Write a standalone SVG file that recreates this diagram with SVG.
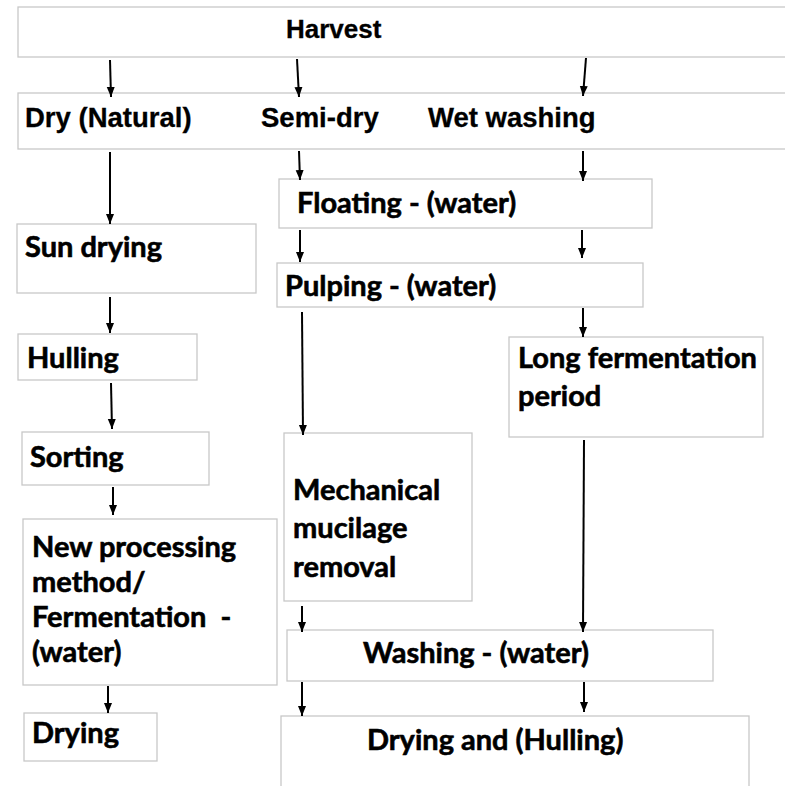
<svg xmlns="http://www.w3.org/2000/svg" width="785" height="786" viewBox="0 0 785 786">
<style>
.box{fill:#fff;stroke:#c8c8c8;stroke-width:1.3}
.t1{font-family:"Liberation Sans",Arial,sans-serif;font-weight:700;fill:#000;stroke:#000;stroke-width:0.3}
.t2{font-family:Lato,"Liberation Sans",sans-serif;font-weight:700;font-size:29px;fill:#000;stroke:#000;stroke-width:0.6;white-space:pre}
.c{stroke:#000;stroke-width:2;fill:none;marker-end:url(#ah)}
</style>
<defs>
<marker id="ah" markerUnits="userSpaceOnUse" markerWidth="10" markerHeight="10" viewBox="0 0 10 10" refX="10" refY="5" orient="auto">
<path d="M0,1 L10,5 L0,9 Z" fill="#000"/>
</marker>
</defs>
<rect width="785" height="786" fill="#fff"/>
<g id="harvest"><rect class="box" x="18" y="7" width="780" height="50"/><text class="t1" font-size="26" x="286" y="38">Harvest</text></g>
<g id="methods"><rect class="box" x="18" y="93" width="780" height="56"/>
<text class="t1" font-size="27.5" x="25" y="127">Dry (Natural)</text>
<text class="t1" font-size="27.5" x="261" y="127">Semi-dry</text>
<text class="t1" font-size="27.5" x="428" y="127">Wet washing</text></g>
<g id="sun-drying"><rect class="box" x="17" y="224" width="239" height="69"/><text class="t2" x="25" y="257">Sun drying</text></g>
<g id="hulling"><rect class="box" x="18" y="334" width="179" height="46"/><text class="t2" x="27" y="368">Hulling</text></g>
<g id="sorting"><rect class="box" x="22" y="432" width="187" height="53"/><text class="t2" x="30" y="467">Sorting</text></g>
<g id="new-processing"><rect class="box" x="23" y="519" width="254" height="166"/>
<text class="t2" x="32" y="557">New processing</text>
<text class="t2" x="32" y="592">method/</text>
<text class="t2" x="32" y="627">Fermentation  -</text>
<text class="t2" x="32" y="662">(water)</text></g>
<g id="drying"><rect class="box" x="24" y="713" width="133" height="48"/><text class="t2" x="32" y="743">Drying</text></g>
<g id="floating"><rect class="box" x="279" y="179" width="373" height="49"/><text class="t2" x="297" y="213">Floating - (water)</text></g>
<g id="pulping"><rect class="box" x="277" y="263" width="366" height="44"/><text class="t2" x="285" y="296">Pulping - (water)</text></g>
<g id="long-fermentation"><rect class="box" x="509" y="337" width="254" height="100"/>
<text class="t2" x="518" y="368">Long fermentation</text>
<text class="t2" x="518" y="406">period</text></g>
<g id="mechanical"><rect class="box" x="284" y="433" width="188" height="168"/>
<text class="t2" x="293" y="500">Mechanical</text>
<text class="t2" x="293" y="538">mucilage</text>
<text class="t2" x="293" y="577">removal</text></g>
<g id="washing"><rect class="box" x="287" y="630" width="426" height="51"/><text class="t2" x="363" y="663">Washing - (water)</text></g>
<g id="drying-hulling"><rect class="box" x="281" y="716" width="468" height="90"/><text class="t2" x="367" y="750">Drying and (Hulling)</text></g>
<g id="connectors">
<line class="c" x1="110" y1="60" x2="111" y2="97"/>
<line class="c" x1="297" y1="59" x2="299" y2="97"/>
<line class="c" x1="586" y1="58" x2="583" y2="96"/>
<line class="c" x1="110" y1="152" x2="110" y2="224"/>
<line class="c" x1="110" y1="297" x2="110" y2="333"/>
<line class="c" x1="111" y1="383" x2="112" y2="429"/>
<line class="c" x1="113" y1="487" x2="113" y2="515"/>
<line class="c" x1="108" y1="686" x2="108" y2="713"/>
<line class="c" x1="299" y1="151" x2="300" y2="180"/>
<line class="c" x1="583" y1="151" x2="583" y2="181"/>
<line class="c" x1="300" y1="230" x2="300" y2="262"/>
<line class="c" x1="582" y1="230" x2="582" y2="258"/>
<line class="c" x1="302" y1="312" x2="303" y2="435"/>
<line class="c" x1="583" y1="308" x2="583" y2="337"/>
<line class="c" x1="584" y1="440" x2="583" y2="632"/>
<line class="c" x1="302" y1="606" x2="302" y2="632"/>
<line class="c" x1="302" y1="682" x2="302" y2="716"/>
<line class="c" x1="584" y1="682" x2="584" y2="712"/>
</g>
</svg>
